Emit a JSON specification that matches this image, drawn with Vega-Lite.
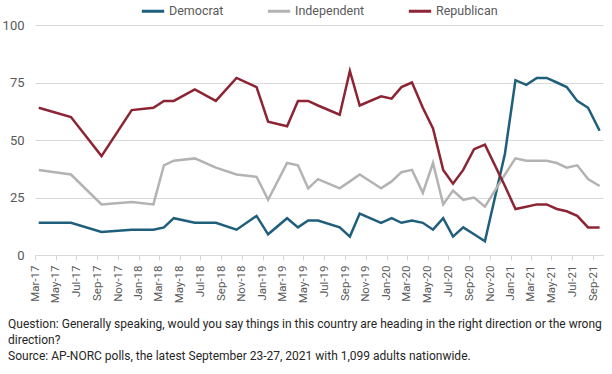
{
  "$schema": "https://vega.github.io/schema/vega-lite/v6.json",
  "width": 568,
  "height": 230,
  "autosize": {"type": "none"},
  "padding": {"left": 35, "top": 25, "right": 9, "bottom": 119},
  "background": "#ffffff",
  "title": {
    "text": [
      "Question: Generally speaking, would you say things in this country are heading in the right direction or the wrong",
      "direction?",
      "Source: AP-NORC polls, the latest September 23-27, 2021 with 1,099 adults nationwide."
    ],
    "orient": "bottom",
    "anchor": "start",
    "frame": "bounds",
    "dx": 6,
    "offset": 16,
    "font": "Roboto",
    "fontSize": 12,
    "fontWeight": "normal",
    "color": "#262626",
    "lineHeight": 16
  },
  "data": {
    "values": [
      {"date": "2017-03-12", "party": "Democrat", "value": 14},
      {"date": "2017-06-15", "party": "Democrat", "value": 14},
      {"date": "2017-09-13", "party": "Democrat", "value": 10},
      {"date": "2017-12-11", "party": "Democrat", "value": 11},
      {"date": "2018-02-13", "party": "Democrat", "value": 11},
      {"date": "2018-03-16", "party": "Democrat", "value": 12},
      {"date": "2018-04-14", "party": "Democrat", "value": 16},
      {"date": "2018-06-15", "party": "Democrat", "value": 14},
      {"date": "2018-08-16", "party": "Democrat", "value": 14},
      {"date": "2018-10-16", "party": "Democrat", "value": 11},
      {"date": "2018-12-14", "party": "Democrat", "value": 17},
      {"date": "2019-01-17", "party": "Democrat", "value": 9},
      {"date": "2019-03-14", "party": "Democrat", "value": 16},
      {"date": "2019-04-15", "party": "Democrat", "value": 12},
      {"date": "2019-05-15", "party": "Democrat", "value": 15},
      {"date": "2019-06-13", "party": "Democrat", "value": 15},
      {"date": "2019-08-16", "party": "Democrat", "value": 12},
      {"date": "2019-09-15", "party": "Democrat", "value": 8},
      {"date": "2019-10-14", "party": "Democrat", "value": 18},
      {"date": "2019-12-16", "party": "Democrat", "value": 14},
      {"date": "2020-01-16", "party": "Democrat", "value": 16},
      {"date": "2020-02-14", "party": "Democrat", "value": 14},
      {"date": "2020-03-16", "party": "Democrat", "value": 15},
      {"date": "2020-04-17", "party": "Democrat", "value": 14},
      {"date": "2020-05-17", "party": "Democrat", "value": 11},
      {"date": "2020-06-16", "party": "Democrat", "value": 16},
      {"date": "2020-07-15", "party": "Democrat", "value": 8},
      {"date": "2020-08-14", "party": "Democrat", "value": 12},
      {"date": "2020-09-15", "party": "Democrat", "value": 9},
      {"date": "2020-10-17", "party": "Democrat", "value": 6},
      {"date": "2020-12-15", "party": "Democrat", "value": 44},
      {"date": "2021-01-15", "party": "Democrat", "value": 76},
      {"date": "2021-02-16", "party": "Democrat", "value": 74},
      {"date": "2021-03-19", "party": "Democrat", "value": 77},
      {"date": "2021-04-17", "party": "Democrat", "value": 77},
      {"date": "2021-05-17", "party": "Democrat", "value": 75},
      {"date": "2021-06-15", "party": "Democrat", "value": 73},
      {"date": "2021-07-16", "party": "Democrat", "value": 67},
      {"date": "2021-08-17", "party": "Democrat", "value": 64},
      {"date": "2021-09-20", "party": "Democrat", "value": 54},
      {"date": "2017-03-12", "party": "Independent", "value": 37},
      {"date": "2017-06-15", "party": "Independent", "value": 35},
      {"date": "2017-09-13", "party": "Independent", "value": 22},
      {"date": "2017-12-11", "party": "Independent", "value": 23},
      {"date": "2018-02-13", "party": "Independent", "value": 22},
      {"date": "2018-03-16", "party": "Independent", "value": 39},
      {"date": "2018-04-14", "party": "Independent", "value": 41},
      {"date": "2018-06-15", "party": "Independent", "value": 42},
      {"date": "2018-08-16", "party": "Independent", "value": 38},
      {"date": "2018-10-16", "party": "Independent", "value": 35},
      {"date": "2018-12-14", "party": "Independent", "value": 34},
      {"date": "2019-01-17", "party": "Independent", "value": 24},
      {"date": "2019-03-14", "party": "Independent", "value": 40},
      {"date": "2019-04-15", "party": "Independent", "value": 39},
      {"date": "2019-05-15", "party": "Independent", "value": 29},
      {"date": "2019-06-13", "party": "Independent", "value": 33},
      {"date": "2019-08-16", "party": "Independent", "value": 29},
      {"date": "2019-09-15", "party": "Independent", "value": 32},
      {"date": "2019-10-14", "party": "Independent", "value": 35},
      {"date": "2019-12-16", "party": "Independent", "value": 29},
      {"date": "2020-01-16", "party": "Independent", "value": 32},
      {"date": "2020-02-14", "party": "Independent", "value": 36},
      {"date": "2020-03-16", "party": "Independent", "value": 37},
      {"date": "2020-04-17", "party": "Independent", "value": 27},
      {"date": "2020-05-17", "party": "Independent", "value": 40},
      {"date": "2020-06-16", "party": "Independent", "value": 22},
      {"date": "2020-07-15", "party": "Independent", "value": 28},
      {"date": "2020-08-14", "party": "Independent", "value": 24},
      {"date": "2020-09-15", "party": "Independent", "value": 25},
      {"date": "2020-10-17", "party": "Independent", "value": 21},
      {"date": "2020-12-15", "party": "Independent", "value": 35},
      {"date": "2021-01-15", "party": "Independent", "value": 42},
      {"date": "2021-02-16", "party": "Independent", "value": 41},
      {"date": "2021-03-19", "party": "Independent", "value": 41},
      {"date": "2021-04-17", "party": "Independent", "value": 41},
      {"date": "2021-05-17", "party": "Independent", "value": 40},
      {"date": "2021-06-15", "party": "Independent", "value": 38},
      {"date": "2021-07-16", "party": "Independent", "value": 39},
      {"date": "2021-08-17", "party": "Independent", "value": 33},
      {"date": "2021-09-20", "party": "Independent", "value": 30},
      {"date": "2017-03-12", "party": "Republican", "value": 64},
      {"date": "2017-06-15", "party": "Republican", "value": 60},
      {"date": "2017-09-13", "party": "Republican", "value": 43},
      {"date": "2017-12-11", "party": "Republican", "value": 63},
      {"date": "2018-02-13", "party": "Republican", "value": 64},
      {"date": "2018-03-16", "party": "Republican", "value": 67},
      {"date": "2018-04-14", "party": "Republican", "value": 67},
      {"date": "2018-06-15", "party": "Republican", "value": 72},
      {"date": "2018-08-16", "party": "Republican", "value": 67},
      {"date": "2018-10-16", "party": "Republican", "value": 77},
      {"date": "2018-12-14", "party": "Republican", "value": 73},
      {"date": "2019-01-17", "party": "Republican", "value": 58},
      {"date": "2019-03-14", "party": "Republican", "value": 56},
      {"date": "2019-04-15", "party": "Republican", "value": 67},
      {"date": "2019-05-15", "party": "Republican", "value": 67},
      {"date": "2019-06-13", "party": "Republican", "value": 65},
      {"date": "2019-08-16", "party": "Republican", "value": 61},
      {"date": "2019-09-15", "party": "Republican", "value": 80},
      {"date": "2019-10-14", "party": "Republican", "value": 65},
      {"date": "2019-12-16", "party": "Republican", "value": 69},
      {"date": "2020-01-16", "party": "Republican", "value": 68},
      {"date": "2020-02-14", "party": "Republican", "value": 73},
      {"date": "2020-03-16", "party": "Republican", "value": 75},
      {"date": "2020-04-17", "party": "Republican", "value": 64},
      {"date": "2020-05-17", "party": "Republican", "value": 55},
      {"date": "2020-06-16", "party": "Republican", "value": 37},
      {"date": "2020-07-15", "party": "Republican", "value": 31},
      {"date": "2020-08-14", "party": "Republican", "value": 37},
      {"date": "2020-09-15", "party": "Republican", "value": 46},
      {"date": "2020-10-17", "party": "Republican", "value": 48},
      {"date": "2020-12-15", "party": "Republican", "value": 30},
      {"date": "2021-01-15", "party": "Republican", "value": 20},
      {"date": "2021-02-16", "party": "Republican", "value": 21},
      {"date": "2021-03-19", "party": "Republican", "value": 22},
      {"date": "2021-04-17", "party": "Republican", "value": 22},
      {"date": "2021-05-17", "party": "Republican", "value": 20},
      {"date": "2021-06-15", "party": "Republican", "value": 19},
      {"date": "2021-07-16", "party": "Republican", "value": 17},
      {"date": "2021-08-17", "party": "Republican", "value": 12},
      {"date": "2021-09-20", "party": "Republican", "value": 12}
    ]
  },
  "mark": {"type": "line", "strokeWidth": 2.5, "strokeJoin": "miter"},
  "encoding": {
    "x": {
      "field": "date",
      "type": "temporal",
      "scale": {
        "type": "utc",
        "domain": [
          {"year": 2017, "month": 3, "date": 1, "utc": true},
          {"year": 2021, "month": 9, "date": 30, "utc": true}
        ]
      },
      "axis": {
        "title": null,
        "labelExpr": "utcFormat(datum.value, '%b-%y')",
        "tickCount": {"interval": "month", "step": 2},
        "labelAngle": -90,
        "labelFont": "Roboto",
        "labelFontSize": 11.5,
        "labelColor": "#595959",
        "labelPadding": 5,
        "labelFlush": false,
        "labelOverlap": false,
        "grid": false,
        "domainColor": "#d9d9d9",
        "tickColor": "#d9d9d9",
        "tickSize": 5
      }
    },
    "y": {
      "field": "value",
      "type": "quantitative",
      "scale": {"domain": [0, 100], "nice": false},
      "axis": {
        "title": null,
        "values": [0, 25, 50, 75, 100],
        "labelFont": "Roboto",
        "labelFontSize": 13,
        "labelColor": "#595959",
        "labelPadding": 11,
        "domain": false,
        "ticks": false,
        "gridColor": "#d9d9d9",
        "gridWidth": 1
      }
    },
    "color": {
      "field": "party",
      "type": "nominal",
      "scale": {
        "domain": ["Democrat", "Independent", "Republican"],
        "range": ["#1f5f7b", "#b3b3b3", "#8c2433"]
      },
      "legend": {
        "title": null,
        "orient": "none",
        "legendX": 105,
        "legendY": -27,
        "direction": "horizontal",
        "symbolType": "stroke",
        "symbolStrokeWidth": 3,
        "symbolSize": 500,
        "labelFont": "Roboto",
        "labelFontSize": 12.5,
        "labelColor": "#595959",
        "labelOffset": 3,
        "columnPadding": 37
      }
    }
  },
  "config": {
    "view": {"stroke": null}
  }
}
